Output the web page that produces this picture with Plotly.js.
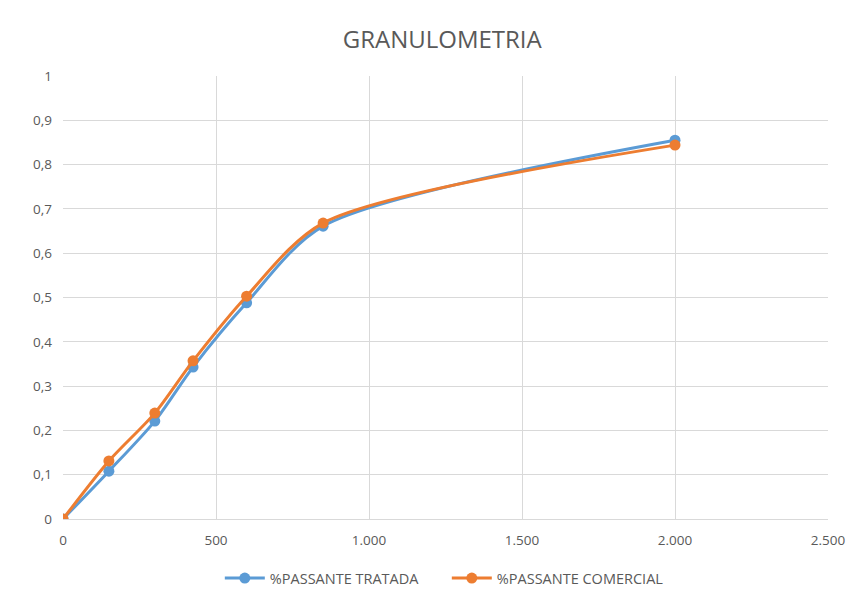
<!DOCTYPE html>
<html>
<head>
<meta charset="utf-8">
<script src="https://cdn.plot.ly/plotly-3.0.1.min.js"></script>
<style>html,body{margin:0;padding:0;background:#fff;}#chart{width:862px;height:593px;}</style>
</head>
<body>
<div id="chart"></div>
<script>
const sieveSizes = [0, 150, 300, 425, 600, 850, 2000];
const passanteTratada = [0, 0.108, 0.221, 0.343, 0.488, 0.661, 0.855];
const passanteComercial = [0, 0.131, 0.239, 0.357, 0.503, 0.668, 0.844];
const seriesNames = ['%PASSANTE TRATADA', '%PASSANTE COMERCIAL'];
const xTickVals = [0, 500, 1000, 1500, 2000, 2500];
const xTickText = ['0', '500', '1.000', '1.500', '2.000', '2.500'];
const yTickVals = [0, 0.1, 0.2, 0.3, 0.4, 0.5, 0.6, 0.7, 0.8, 0.9, 1];
const yTickText = ['0', '0,1', '0,2', '0,3', '0,4', '0,5', '0,6', '0,7', '0,8', '0,9', '1'];

const font = '"Open Sans", Lato, sans-serif';
const traces = [
  {x: sieveSizes, y: passanteTratada, name: seriesNames[0], type: 'scatter', mode: 'lines+markers',
   line: {color: '#5B9BD5', width: 3, shape: 'spline', smoothing: 0.8}, marker: {color: '#5B9BD5', size: 11}},
  {x: sieveSizes, y: passanteComercial, name: seriesNames[1], type: 'scatter', mode: 'lines+markers',
   line: {color: '#ED7D31', width: 3, shape: 'spline', smoothing: 0.8}, marker: {color: '#ED7D31', size: 11}}
];
const layout = {
  width: 862, height: 593,
  margin: {l: 63, r: 34, t: 76, b: 74, autoexpand: false},
  paper_bgcolor: '#fff', plot_bgcolor: '#fff',
  title: {text: 'GRANULOMETRIA', font: {family: font, size: 24, color: '#595959'}, x: 0.513, xanchor: 'center', y: 0.933, yanchor: 'middle'},
  xaxis: {range: [0, 2500], tickvals: xTickVals, ticktext: xTickText, showgrid: true, gridcolor: '#d9d9d9', gridwidth: 1,
          zeroline: false, showline: true, linecolor: '#d9d9d9', ticks: '', ticklabelstandoff: 9, tickfont: {family: font, size: 13.5, color: '#595959'}, fixedrange: true},
  yaxis: {range: [0, 1], tickvals: yTickVals, ticktext: yTickText, showgrid: true, gridcolor: '#d9d9d9', gridwidth: 1,
          zeroline: false, showline: false, ticks: '', ticklabelstandoff: 10, tickfont: {family: font, size: 13.5, color: '#595959'}, fixedrange: true},
  showlegend: true,
  legend: {orientation: 'h', xref: 'container', x: 0.255, xanchor: 'left', yref: 'container', y: 0.025, yanchor: 'middle',
           entrywidth: 172, entrywidthmode: 'pixels', itemwidth: 40,
           font: {family: font, size: 14.5, color: '#595959'}}
};
Plotly.newPlot('chart', traces, layout, {displayModeBar: false, staticPlot: true});
</script>
</body>
</html>
